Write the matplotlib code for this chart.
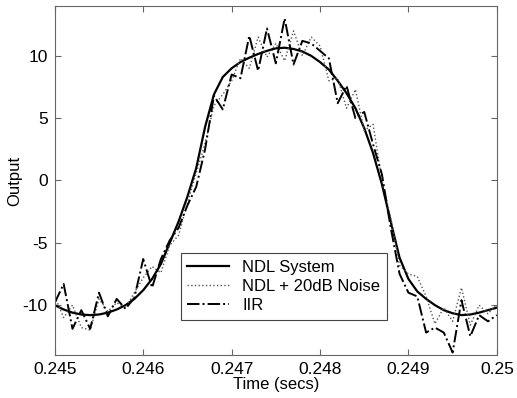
import numpy as np
import matplotlib.pyplot as plt

plt.rcParams['font.family'] = ['Liberation Sans', 'DejaVu Sans']
plt.rcParams['axes.unicode_minus'] = False

# time axis (secs), 0.1 ms steps
t = np.round(np.arange(0.2450, 0.25001, 0.0001), 5)

ndl = [-10.0, -10.35, -10.6, -10.75, -10.8, -10.75, -10.6, -10.35, -10.0, -9.5,
       -8.8, -7.9, -6.7, -5.0, -3.3, -1.3, 1.0, 4.3, 6.9, 8.3,
       9.0, 9.5, 9.85, 10.15, 10.4, 10.6, 10.65, 10.55, 10.35, 10.0,
       9.5, 8.9, 8.0, 7.0, 5.8, 4.2, 2.2, -0.3, -3.3, -6.2,
       -7.9, -8.9, -9.5, -10.0, -10.4, -10.65, -10.8, -10.75, -10.6, -10.4,
       -10.2]

noisy = [-9.3, -11.0, -10.0, -11.8, -12.0, -9.5, -10.5, -9.8, -10.2, -9.0,
         -7.8, -6.9, -7.4, -5.2, -4.4, -1.8, 0.6, 3.0, 6.0, 6.9,
         8.0, 9.8, 9.0, 11.5, 9.9, 11.0, 9.6, 12.0, 10.0, 11.5,
         10.8, 8.0, 8.2, 5.8, 7.3, 4.0, 4.5, 0.0, -3.0, -6.8,
         -7.5, -7.7, -9.3, -11.5, -10.2, -11.3, -8.6, -11.6, -10.0, -10.7,
         -9.9]

iir = [-9.8, -8.3, -11.9, -10.4, -11.9, -9.0, -10.9, -9.5, -10.3, -9.4,
       -6.3, -8.6, -6.3, -4.8, -3.8, -2.0, -0.5, 2.5, 6.8, 5.7,
       8.5, 8.2, 11.6, 8.8, 12.2, 9.4, 13.0, 9.3, 11.2, 11.0,
       10.4, 9.8, 6.2, 7.6, 5.0, 5.5, 2.9, 0.5, -3.8, -7.5,
       -9.0, -9.3, -12.2, -11.8, -12.2, -13.8, -9.6, -12.5, -10.8, -11.3,
       -10.8]

xticks = [0.245, 0.246, 0.247, 0.248, 0.249, 0.25]
xlabels = ['0.245', '0.246', '0.247', '0.248', '0.249', '0.25']
yticks = [-10, -5, 0, 5, 10]

fig = plt.figure(figsize=(5.17, 3.98), dpi=100)
ax = fig.add_axes([0.106, 0.108, 0.855, 0.877])

ax.plot(t, ndl, color='black', lw=1.6, label='NDL System')
ax.plot(t, noisy, color='#555555', lw=1.0, ls=':', label='NDL + 20dB Noise')
ax.plot(t, iir, color='black', lw=1.4, ls='-.', label='IIR')

ax.set_xlim(0.245, 0.25)
ax.set_ylim(-14, 14)
ax.set_xticks(xticks)
ax.set_xticklabels(xlabels)
ax.set_yticks(yticks)
ax.tick_params(direction='in', top=True, right=True, labelsize=12.5, length=4,
               color='#666666', pad=5)
for s in ax.spines.values():
    s.set_color('#666666')

ax.set_xlabel('Time (secs)', fontsize=12, labelpad=0)
ax.set_ylabel('Output', fontsize=12, labelpad=0)

leg = ax.legend(loc='upper left', bbox_to_anchor=(0.285, 0.292), fontsize=12,
                fancybox=False, edgecolor='#444444', framealpha=1,
                borderaxespad=0, handlelength=2.5, labelspacing=0.25,
                borderpad=0.4)
leg.get_frame().set_linewidth(0.8)

fig.savefig('out.png', dpi=100)
